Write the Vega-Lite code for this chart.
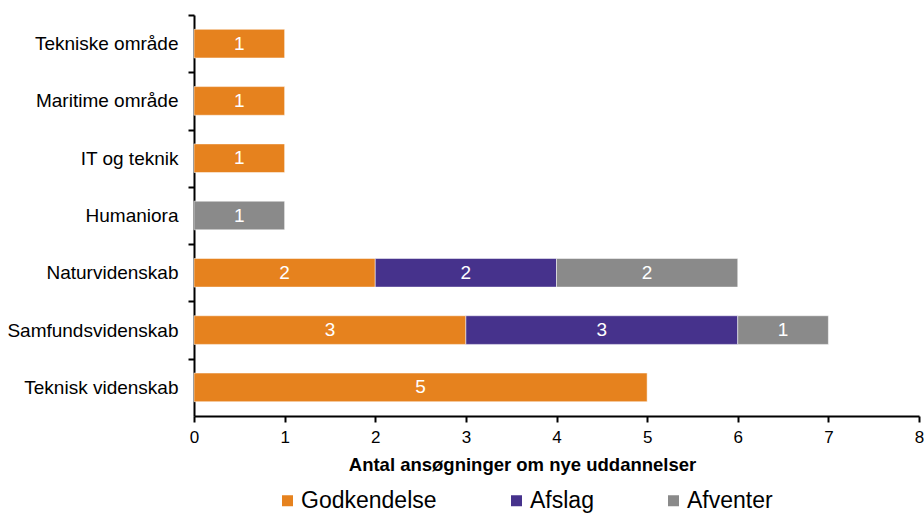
{
  "$schema": "https://vega.github.io/schema/vega-lite/v6.json",
  "autosize": "none",
  "width": 725,
  "height": 401,
  "padding": {"top": 15, "left": 194, "right": 5, "bottom": 97},
  "background": "white",
  "config": {
    "font": "Liberation Sans",
    "view": {"stroke": null},
    "axis": {"domainColor": "black", "domainWidth": 2, "tickColor": "black", "tickWidth": 2, "tickSize": 6, "labelColor": "black", "titleColor": "black", "grid": false}
  },
  "data": {
    "values": [
      {"category": "Tekniske område", "status": "Godkendelse", "count": 1},
      {"category": "Maritime område", "status": "Godkendelse", "count": 1},
      {"category": "IT og teknik", "status": "Godkendelse", "count": 1},
      {"category": "Humaniora", "status": "Afventer", "count": 1},
      {"category": "Naturvidenskab", "status": "Godkendelse", "count": 2},
      {"category": "Naturvidenskab", "status": "Afslag", "count": 2},
      {"category": "Naturvidenskab", "status": "Afventer", "count": 2},
      {"category": "Samfundsvidenskab", "status": "Godkendelse", "count": 3},
      {"category": "Samfundsvidenskab", "status": "Afslag", "count": 3},
      {"category": "Samfundsvidenskab", "status": "Afventer", "count": 1},
      {"category": "Teknisk videnskab", "status": "Godkendelse", "count": 5}
    ]
  },
  "transform": [
    {"calculate": "indexof(['Godkendelse','Afslag','Afventer'], datum.status)", "as": "ord"},
    {"stack": "count", "groupby": ["category"], "sort": [{"field": "ord", "order": "ascending"}], "as": ["x0", "x1"]},
    {"calculate": "(datum.x0 + datum.x1) / 2", "as": "xm"}
  ],
  "layer": [
    {
      "mark": {"type": "bar", "stroke": "white", "strokeWidth": 0.5},
      "encoding": {
        "y": {
          "field": "category",
          "type": "nominal",
          "sort": ["Tekniske område", "Maritime område", "IT og teknik", "Humaniora", "Naturvidenskab", "Samfundsvidenskab", "Teknisk videnskab"],
          "scale": {"paddingInner": 0.5, "paddingOuter": 0.25},
          "axis": {"title": null, "labelFontSize": 19, "labelPadding": 10, "ticks": true, "tickOffset": -28.6, "labelOffset": 28.6, "tickColor": "black", "tickWidth": 2, "tickSize": 6, "tickOpacity": 1, "labelLimit": 250}
        },
        "x": {
          "field": "x0",
          "type": "quantitative",
          "scale": {"domain": [0, 8], "nice": false},
          "axis": {"title": "Antal ansøgninger om nye uddannelser", "titleFontSize": 18.5, "titleFontWeight": "bold", "titlePadding": 10, "titleX": 328, "titleAlign": "center", "labelFontSize": 17, "labelPadding": 7, "labelFlush": false, "labelOverlap": false, "format": "d", "values": [0,1,2,3,4,5,6,7,8]}
        },
        "x2": {"field": "x1"},
        "color": {
          "field": "status",
          "type": "nominal",
          "scale": {"domain": ["Godkendelse", "Afslag", "Afventer"], "range": ["#E6821E", "#46328C", "#8A8A8A"]},
          "legend": {
            "title": null,
            "orient": "none",
            "direction": "horizontal",
            "legendX": 82,
            "legendY": 474,
            "padding": 0,
            "symbolType": "square",
            "symbolSize": 121,
            "symbolStrokeWidth": 0,
            "symbolOpacity": 1,
            "labelFontSize": 23,
            "labelColor": "black",
            "labelOffset": 2,
            "columnPadding": 68,
            "labelLimit": 300
          }
        }
      }
    },
    {
      "mark": {"type": "text", "color": "white", "fontSize": 19, "align": "center", "baseline": "middle"},
      "encoding": {
        "y": {"field": "category", "type": "nominal", "sort": ["Tekniske område", "Maritime område", "IT og teknik", "Humaniora", "Naturvidenskab", "Samfundsvidenskab", "Teknisk videnskab"]},
        "x": {"field": "xm", "type": "quantitative"},
        "text": {"field": "count", "type": "quantitative"}
      }
    }
  ]
}
